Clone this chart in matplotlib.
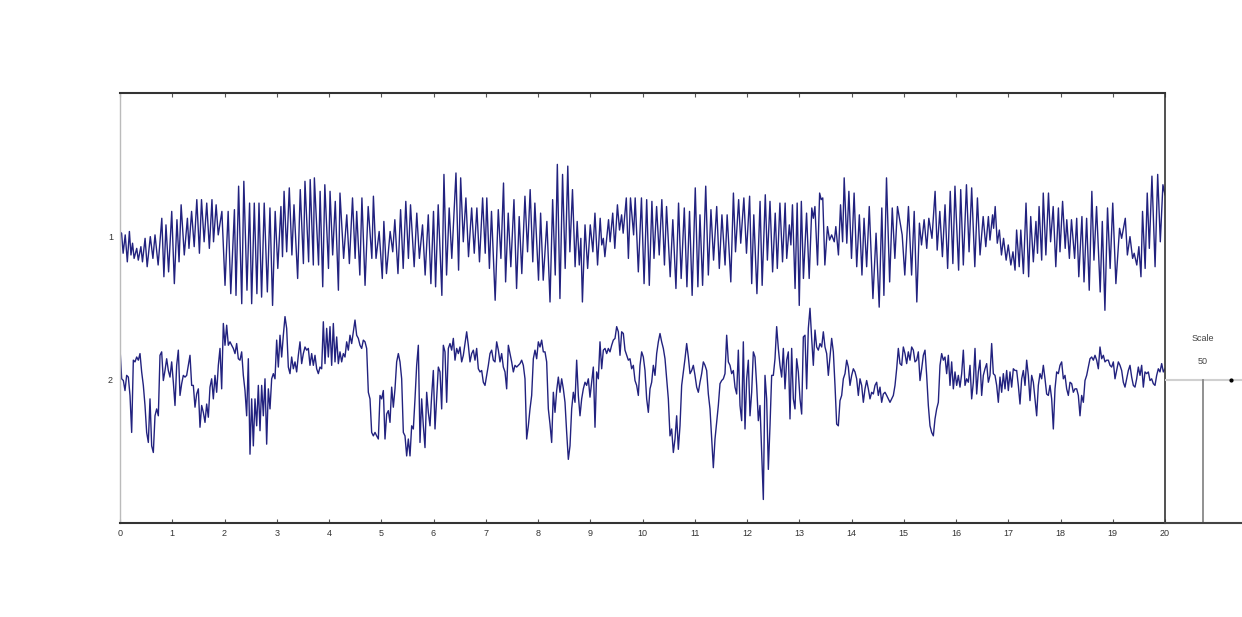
import numpy as np
import matplotlib
matplotlib.use("Agg")
import matplotlib.pyplot as plt

plt.rcParams['font.family'] = ['Liberation Sans', 'DejaVu Sans']

# ---------------- data ----------------
channel_labels = ["1", "2"]
channel_offsets = [1, 2]
x_ticks = list(range(0, 21))
scale_uv = 50          # amplitude (uV) that corresponds to one channel spacing
duration = 20.0        # seconds

# channel 1: extrema (time in s, amplitude in uV)
ch1_t = [0.00,
    0.03,0.06,0.10,0.14,0.18,0.21,0.24,0.27,0.32,0.35,0.40,0.43,0.48,0.52,0.58,0.63,0.67,0.73,0.80,0.84,
    0.88,0.93,0.99,1.04,1.09,1.13,1.17,1.23,1.29,1.32,1.37,1.42,1.47,1.52,1.56,1.61,1.66,1.71,1.76,1.79,
    1.84,1.88,1.95,2.01,2.07,2.12,2.19,2.22,2.27,2.33,2.37,2.43,2.48,2.52,2.57,2.62,2.66,2.71,2.76,2.82,
    2.87,2.92,2.97,3.02,3.08,3.11,3.14,3.19,3.24,3.29,3.33,3.40,3.45,3.51,3.54,3.61,3.64,3.70,3.72,3.80,
    3.83,3.88,3.92,3.99,4.02,4.07,4.12,4.18,4.21,4.28,4.34,4.39,4.45,4.50,4.53,4.59,4.63,4.69,4.75,4.82,
    4.85,4.90,4.96,5.02,5.05,5.10,5.17,5.22,5.26,5.32,5.37,5.42,5.47,5.52,5.56,5.63,5.68,5.73,5.79,5.84,
    5.90,5.95,6.00,6.04,6.09,6.16,6.20,6.25,6.30,6.35,6.43,6.48,6.52,6.57,6.62,6.67,6.73,6.78,6.83,6.88,
    6.94,6.99,7.02,7.07,7.11,7.18,7.24,7.29,7.34,7.38,7.43,7.48,7.54,7.59,7.64,7.69,7.75,7.80,7.85,7.90,
    7.94,8.01,8.05,8.10,8.17,8.23,8.28,8.33,8.37,8.42,8.47,8.52,8.57,8.61,8.66,8.71,8.75,8.79,8.82,8.85,
    8.90,8.95,9.00,9.05,9.09,9.14,9.19,9.22,9.25,9.28,9.35,9.38,9.43,9.47,9.52,9.56,9.60,9.63,9.69,9.73,
    9.77,9.83,9.86,9.92,
    9.98,10.03,10.08,10.13,10.18,10.22,10.27,10.32,10.37,10.42,10.46,10.53,10.58,10.64,10.69,10.74,10.80,10.85,10.90,10.95,
    11.01,11.06,11.10,11.15,11.21,11.26,11.31,11.36,11.42,11.47,11.52,11.58,11.62,11.69,11.74,11.78,11.84,11.88,11.94,11.99,
    12.05,12.09,12.13,12.19,12.25,12.29,12.35,12.39,12.44,12.49,12.54,12.58,12.63,12.68,12.73,12.76,12.81,12.84,12.87,12.92,
    12.96,13.00,13.04,13.08,13.14,13.19,13.24,13.27,13.30,13.35,13.39,13.42,13.45,13.49,13.54,13.58,13.62,13.67,13.70,13.75,
    13.79,13.83,13.86,13.91,13.95,14.00,14.05,14.10,14.15,14.20,14.24,14.29,14.34,14.41,14.47,14.53,14.58,14.62,14.67,14.73,
    14.78,14.83,14.88,
    14.97,15.02,15.09,15.15,15.20,15.25,15.30,15.34,15.39,15.44,15.48,15.54,15.60,15.64,15.69,15.74,15.79,15.84,15.89,15.94,
    15.98,16.05,16.09,16.14,16.20,16.25,16.30,16.36,16.41,16.46,16.52,16.57,16.62,16.65,16.70,16.72,16.75,16.79,16.83,16.87,
    16.91,16.96,17.00,17.05,17.09,17.13,17.16,17.21,17.24,17.29,17.34,17.39,17.43,17.48,17.53,17.56,17.59,17.64,17.67,17.72,
    17.77,17.81,17.86,17.91,17.96,17.99,18.04,18.09,18.12,18.17,18.21,18.27,18.31,18.35,18.41,18.45,18.50,18.55,18.60,18.64,
    18.69,18.76,18.80,18.85,18.90,18.95,19.00,19.06,19.13,19.17,19.24,19.28,19.33,19.38,19.41,19.46,19.50,19.54,19.57,19.62,
    19.66,19.70,19.75,19.81,19.86,19.91,19.96,20.00]

ch1_v = [1.5,
    1.1,-5.9,0.5,-8.9,1.7,-6.5,-2.4,-7.7,-4.2,-8.3,-3.6,-8.9,-0.7,-10.6,-0.1,-7.7,0.5,-10.0,6.3,-14.1,
    4.0,-12.4,8.7,-16.5,5.8,-8.9,11.0,-6.5,6.3,-4.2,8.7,-3.6,12.8,-5.9,12.8,-1.9,11.6,-4.2,12.8,-1.9,
    11.0,0.5,8.7,-17.1,8.7,-20.0,9.3,-20.6,17.5,-23.5,19.2,-18.8,11.6,-23.5,11.6,-20.0,11.6,-21.2,11.6,-19.4,
    9.9,-24.1,8.7,-11.2,10.4,-7.1,15.7,-5.4,16.9,-6.5,11.0,-14.7,16.3,-9.5,19.2,-8.9,19.8,-10.0,20.4,-10.0,
    15.7,-17.6,18.0,-11.2,15.7,-6.5,12.2,-18.8,15.1,-7.7,7.5,-9.5,13.4,-7.7,8.7,-13.5,13.4,-17.1,10.4,-7.7,
    14.0,-7.7,1.7,-14.7,5.2,-13.0,1.7,-5.4,5.8,-13.0,9.3,-11.2,12.2,-7.7,11.0,-10.6,8.1,-7.7,4.0,-13.5,
    7.5,-16.5,8.7,-17.6,11.0,-20.6,21.6,-13.5,9.9,-7.7,22.1,-11.8,20.4,-1.9,13.4,-7.1,9.9,-5.9,9.9,-8.9,
    13.4,-5.9,13.4,-11.2,8.7,-22.3,9.3,-7.7,18.6,-15.9,8.1,-10.6,12.8,-18.2,6.9,-13.0,14.0,-5.4,16.3,-8.9,
    11.6,-15.3,8.1,-15.3,5.2,-22.9,12.8,-13.5,25.1,-21.7,21.6,-11.2,24.5,-5.4,16.3,-10.6,5.2,-10.0,-0.7,-22.9,
    4.0,-11.2,4.0,-5.4,8.1,-10.0,6.3,-3.0,-0.7,-7.1,5.8,-1.9,8.1,-4.2,11.0,2.2,7.5,1.1,13.4,-7.7,
    13.4,0.5,13.4,-12.4,
    13.4,-16.5,12.8,-17.1,12.2,-7.7,10.4,-6.5,12.8,-10.0,10.4,-14.1,5.8,-18.2,11.6,-14.7,9.9,-17.6,8.7,-20.6,
    16.9,-17.6,7.5,-17.1,17.5,-13.5,9.3,-8.3,10.4,-11.2,7.5,-10.0,7.5,-15.9,15.1,-5.4,12.8,-2.4,13.4,-5.9,
    14.0,-16.5,7.5,-20.0,12.2,-17.1,14.5,-8.3,12.2,-12.4,8.1,-11.2,11.6,-8.9,11.6,-7.7,4.0,-3.0,11.0,-18.2,
    11.6,-24.1,12.2,-14.7,8.1,-14.7,9.9,6.3,10.4,-10.0,15.1,12.8,13.4,-10.0,3.4,-1.3,0.5,-1.9,3.4,-6.5,
    11.0,-1.9,20.4,-2.4,15.7,-7.7,15.1,-10.6,7.5,-13.5,6.3,-10.6,10.4,-21.7,1.1,-24.7,9.9,-20.6,20.4,-15.9,
    9.9,-7.7,10.4,
    0.5,-13.5,10.4,-13.5,8.7,-22.9,4.6,-3.0,5.8,-4.2,6.3,-0.7,15.7,-4.8,8.7,-7.1,11.0,-11.2,15.7,-9.5,
    17.5,-11.8,16.3,-10.0,18.0,-5.4,16.9,-10.6,13.4,-6.5,6.9,-3.6,6.9,-1.3,7.5,2.8,10.4,-2.4,2.2,-6.5,
    -0.7,-8.3,-3.0,-10.0,-5.4,-11.8,2.2,-10.6,2.2,-13.0,11.6,-14.1,6.9,-8.9,5.2,-5.9,10.4,-8.3,15.1,-6.5,
    15.1,-1.9,10.4,-10.6,9.9,-5.4,12.2,-4.2,5.8,-7.7,5.8,-7.7,6.3,-14.1,6.9,-15.9,6.3,-18.8,15.7,-8.3,
    10.4,-19.4,5.2,-25.8,9.9,-11.2,11.6,-16.5,2.8,-0.7,6.3,-6.5,-0.1,-7.7,-5.9,-10.0,-3.6,-14.1,8.7,-11.2,
    15.1,-4.2,21.0,-10.6,21.6,-1.9,18.0,14.5]

# channel 2: uniformly sampled amplitude (uV), 628 samples spanning 0-20 s
ch2_v = [
    10.9,0.3,-0.3,-3.8,1.5,0.9,-5.5,-18.4,6.8,6.2,
    7.9,6.8,9.1,2.7,-2.0,-9.0,-18.4,-21.9,-6.7,-23.1,
    -25.4,-12.6,-10.2,-12.6,8.5,9.7,-0.3,3.2,7.3,3.2,
    0.9,6.2,-0.9,-9.0,5.0,10.3,-5.5,-1.4,1.5,0.9,
    1.5,5.0,8.5,-2.0,-2.0,-9.6,-5.0,-3.2,-16.6,-9.0,
    -11.4,-14.9,-8.5,-13.1,-2.6,0.3,-6.7,1.5,-4.4,5.0,
    10.9,-3.2,19.6,12.0,19.0,12.0,13.2,12.0,10.9,9.1,
    12.6,7.3,6.8,9.7,1.5,-3.8,-12.6,7.3,-26.0,-6.7,
    -23.1,-6.7,-16.1,-2.0,-17.8,-2.0,-12.6,0.3,-22.5,-3.2,
    -10.2,0.3,2.1,0.3,13.8,4.4,15.5,7.9,15.5,22.0,
    17.9,4.4,2.1,7.9,3.8,6.2,2.7,8.5,13.2,5.6,
    9.1,11.4,10.3,10.9,5.0,9.1,5.0,8.5,3.8,2.1,
    4.4,3.8,20.2,5.6,17.9,7.9,18.5,5.0,19.6,6.2,
    14.9,5.6,9.7,6.2,9.1,7.9,13.2,10.3,15.5,12.6,
    16.7,20.8,15.5,14.4,12.0,10.9,13.8,13.2,10.9,-4.4,
    -6.7,-18.4,-19.6,-18.4,-19.6,-20.7,
    -5.5,-6.7,-3.8,-20.7,-12.0,-10.8,-14.9,-2.6,-9.6,-3.2,
    6.2,9.1,6.2,0.3,-18.4,-19.6,-26.6,-20.7,-26.6,-16.1,
    -17.2,-6.7,5.0,12.0,-21.9,-6.7,-16.1,-23.7,-4.4,-11.4,
    -16.1,-5.5,3.2,-17.2,-6.7,4.4,2.7,-10.2,12.0,9.7,
    -7.9,10.9,12.6,10.3,14.4,6.8,10.9,9.1,11.4,6.2,
    8.5,12.6,16.7,12.0,6.2,9.1,10.3,6.8,10.9,3.8,
    2.7,3.2,-0.9,-2.0,1.5,5.0,9.1,10.3,6.8,6.2,
    13.2,10.3,6.2,9.1,4.4,2.7,-3.2,12.0,9.1,6.2,
    2.7,5.0,4.4,5.0,5.6,6.8,5.0,0.3,-20.7,-16.1,
    -10.2,-5.5,7.3,10.3,7.3,13.2,11.4,13.8,9.7,9.7,
    6.2,-10.2,-15.5,-21.9,-4.4,-11.4,-3.8,0.9,-4.4,0.3,
    -3.2,-7.9,-18.4,-27.8,-23.1,-10.2,-4.4,-7.9,6.8,-5.5,
    -12.6,-6.7,-3.2,-0.9,-2.0,0.3,-6.1,-0.9,4.4,-16.6,
    2.7,0.3,13.2,3.8,10.3,10.9,9.1,10.9,9.7,12.0,
    13.8,14.4,18.5,16.7,8.5,16.7,16.1,10.3,8.5,6.8,
    7.3,3.8,5.0,-0.3,-2.0,-5.5,
    5.0,9.7,7.9,3.2,-6.7,-11.4,-3.2,-0.9,5.0,1.5,
    9.1,13.2,16.1,13.2,10.9,7.3,0.3,-6.7,-19.6,-17.2,
    -25.4,-20.7,-12.6,-24.3,-16.1,-2.0,2.7,7.3,12.6,7.9,
    2.1,3.2,5.0,1.5,-2.6,-4.4,-0.9,2.1,6.2,5.0,
    3.2,-5.0,-10.2,-20.7,-30.7,-20.7,-14.9,-9.0,-1.4,-0.3,
    0.3,2.1,15.5,6.2,5.0,2.1,3.2,-2.6,-5.0,10.3,
    -9.0,-14.3,13.2,-17.2,0.3,6.8,-12.6,-4.4,9.7,7.9,
    -2.0,-14.3,-9.0,-25.4,-41.8,1.5,-6.7,-31.3,-16.1,1.5,
    1.5,7.3,18.5,10.9,5.0,0.9,10.9,-3.2,6.8,9.7,
    -13.7,10.9,-6.7,-10.2,7.3,2.7,-6.7,-12.0,14.9,15.5,
    -3.2,17.9,24.9,14.4,5.0,17.3,11.4,10.3,12.6,11.4,
    16.7,11.4,9.1,1.5,7.9,14.4,9.7,-2.0,-15.5,-16.1,
    -7.3,-5.5,0.3,2.1,6.8,4.4,-2.0,1.5,3.8,2.7,
    0.3,-5.5,0.3,-2.0,-7.9,-3.2,-0.3,-3.2,-6.7,-4.4,
    -5.0,-2.0,-0.9,-5.5,-2.6,-7.9,-5.0,-4.4,-5.5,-6.7,
    -7.9,-6.7,-5.5,-2.0,3.8,10.9,
    5.6,5.0,11.4,9.1,5.6,9.7,6.8,11.4,10.3,6.2,
    6.8,9.7,-0.3,3.8,8.5,10.3,1.5,-9.0,-16.1,-18.4,
    -19.6,-13.7,-10.2,-7.9,5.0,9.1,6.8,7.9,2.1,8.5,
    -2.0,6.2,-3.2,2.7,-2.0,1.5,-2.6,2.1,10.3,-2.0,
    0.3,-0.9,5.0,-6.7,-0.9,10.9,-5.0,2.7,6.8,-5.5,
    1.5,3.8,5.6,-0.9,1.5,12.6,2.1,1.5,-2.0,-7.9,
    0.9,-4.4,2.1,-3.2,3.2,-3.8,2.7,-2.6,3.8,3.2,
    3.2,-2.0,-8.5,0.3,3.2,-2.0,6.8,1.5,-7.3,1.5,
    -0.9,-6.7,-12.6,-2.0,2.1,0.3,5.0,0.3,-5.0,-5.5,
    -2.0,-6.7,-17.2,-3.2,2.7,2.1,5.0,6.2,0.3,1.5,
    -3.2,-5.5,-0.9,-1.4,-4.4,-3.2,-3.2,-5.5,-12.6,-5.5,
    -7.9,-0.3,1.5,4.4,7.3,7.9,6.8,8.5,6.8,3.8,
    11.4,7.3,8.5,6.2,6.8,6.8,5.0,4.4,6.2,0.3,
    3.2,6.2,5.0,3.2,-0.9,-2.6,0.3,3.2,5.0,0.9,
    -2.0,-2.6,0.3,4.4,1.5,5.0,-2.6,2.7,2.1,2.7,
    -0.3,0.3,-1.4,-2.0,1.5,3.8,2.7,5.6,2.7,3.8]
ch2_t = np.linspace(0.0, duration, len(ch2_v))

# ---------------- figure ----------------
W, H = 1242, 617
fig = plt.figure(figsize=(W / 100, H / 100), dpi=100)
fig.patch.set_facecolor("white")

ax_l, ax_r, ax_t, ax_b = 120, 1165, 93, 523
ax = fig.add_axes([ax_l / W, 1 - ax_b / H, (ax_r - ax_l) / W, (ax_b - ax_t) / H])

line_color = "#22227f"
for off, t, v in [(channel_offsets[0], ch1_t, ch1_v), (channel_offsets[1], ch2_t, ch2_v)]:
    ax.plot(t, off - np.asarray(v) / scale_uv, color=line_color, lw=1.0,
            solid_joinstyle="round")

ax.set_xlim(0, duration)
ax.set_ylim(3, 0)
ax.set_xticks(x_ticks)
ax.set_xticklabels([str(x) for x in x_ticks], fontsize=6.5, color="#333333")
ax.set_yticks(channel_offsets)
ax.set_yticklabels(channel_labels, fontsize=6.5, color="#333333")
ax.tick_params(axis="x", direction="in", length=3, width=0.8, color="#555555",
               top=True, pad=4)
ax.tick_params(axis="y", length=0, pad=5)

ax.spines["top"].set_color("#333333")
ax.spines["top"].set_linewidth(1.5)
ax.spines["bottom"].set_color("#333333")
ax.spines["bottom"].set_linewidth(1.5)
ax.spines["left"].set_color("#bbbbbb")
ax.spines["left"].set_linewidth(1.0)
ax.spines["right"].set_color("#333333")
ax.spines["right"].set_linewidth(1.2)

# ---------------- scale panel ----------------
sx_r = 1300
sc = fig.add_axes([ax_r / W, 1 - ax_b / H, (sx_r - ax_r) / W, (ax_b - ax_t) / H])
sc.set_xlim(0, 1)
sc.set_ylim(3, 0)
sc.set_xticks([])
sc.set_yticks([])
for s in ["top", "left", "right"]:
    sc.spines[s].set_visible(False)
sc.spines["bottom"].set_color("#444444")
sc.spines["bottom"].set_linewidth(1.5)
sc.patch.set_alpha(0)

bar_x = (1203 - ax_r) / (sx_r - ax_r)
dot_x = (1231 - ax_r) / (sx_r - ax_r)
sc.axhline(channel_offsets[1], color="#d0d0d0", lw=1.5)
sc.plot([bar_x, bar_x], [channel_offsets[1], 3], color="#888888", lw=1.3)
sc.plot([dot_x], [channel_offsets[1]], marker="o", ms=2, color="black")
sc.text(bar_x, channel_offsets[1] - 0.29, "Scale", ha="center", va="center",
        fontsize=6.5, color="#444444")
sc.text(bar_x, channel_offsets[1] - 0.13, str(scale_uv), ha="center", va="center",
        fontsize=6.5, color="#444444")

fig.savefig("out.png", dpi=100, facecolor="white")
